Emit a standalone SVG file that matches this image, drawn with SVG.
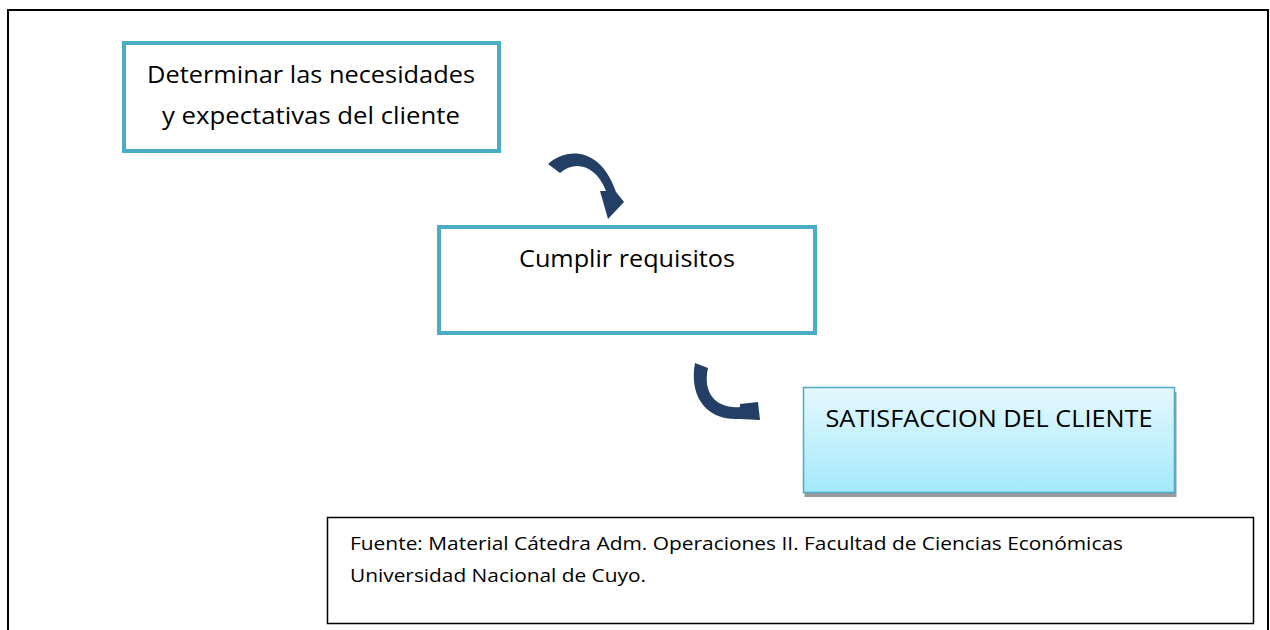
<svg xmlns="http://www.w3.org/2000/svg" width="1270" height="630" viewBox="0 0 1270 630">
<defs>
<linearGradient id="g3" x1="0" y1="0" x2="0" y2="1">
<stop offset="0" stop-color="#e5f8fe"/>
<stop offset="1" stop-color="#a3e9fb"/>
</linearGradient>
</defs>
<style>
.box{fill:#ffffff;stroke:#4bacc6;stroke-width:4}
.t{font-family:"Open Sans","Noto Sans","DejaVu Sans",sans-serif;font-size:23px;fill:#000000}
.s{font-family:"Open Sans","Noto Sans","DejaVu Sans",sans-serif;font-size:18.5px;fill:#000000}
.arrow{fill:#233f66}
</style>
<rect width="1270" height="630" fill="#ffffff"/>
<path d="M8 632 V10 H1268 V632" fill="none" stroke="#000000" stroke-width="2"/>
<g id="node-determinar">
<rect class="box" x="124" y="43" width="375" height="108"/>
<text class="t" x="311" y="83" text-anchor="middle" textLength="328" lengthAdjust="spacingAndGlyphs">Determinar las necesidades</text>
<text class="t" x="311" y="124" text-anchor="middle" textLength="298" lengthAdjust="spacingAndGlyphs">y expectativas del cliente</text>
</g>
<g id="node-cumplir">
<rect class="box" x="439" y="227" width="376" height="106"/>
<text class="t" x="627" y="267" text-anchor="middle" textLength="216" lengthAdjust="spacingAndGlyphs">Cumplir requisitos</text>
</g>
<g id="node-satisfaccion">
<rect x="804.5" y="392" width="372" height="105" fill="#9a9a9a"/>
<rect x="803.5" y="387.5" width="371" height="105" fill="url(#g3)" stroke="#4bacc6" stroke-width="1.5"/>
<text class="t" x="989" y="427" text-anchor="middle" textLength="327" lengthAdjust="spacingAndGlyphs">SATISFACCION DEL CLIENTE</text>
</g>
<g id="node-fuente">
<rect x="327.5" y="517.5" width="926" height="106" fill="#ffffff" stroke="#000000" stroke-width="1.5"/>
<text class="s" x="350" y="550" textLength="773" lengthAdjust="spacingAndGlyphs">Fuente: Material Cátedra Adm. Operaciones II. Facultad de Ciencias Económicas</text>
<text class="s" x="350" y="582" textLength="296" lengthAdjust="spacingAndGlyphs">Universidad Nacional de Cuyo.</text>
</g>
<g id="connectors">
<path class="arrow" d="M548,164 C565,148 600,145 616,192 L624,202 L608,219 L600,191 L606,191 C596,165 575,160 560,173 Z"/>
<path class="arrow" d="M695,363 C689,395 705,421 740,419 L760,420 L758,402 L740,404 L740,407 C718,409 702,395 708,368 Z"/>
</g>
</svg>
